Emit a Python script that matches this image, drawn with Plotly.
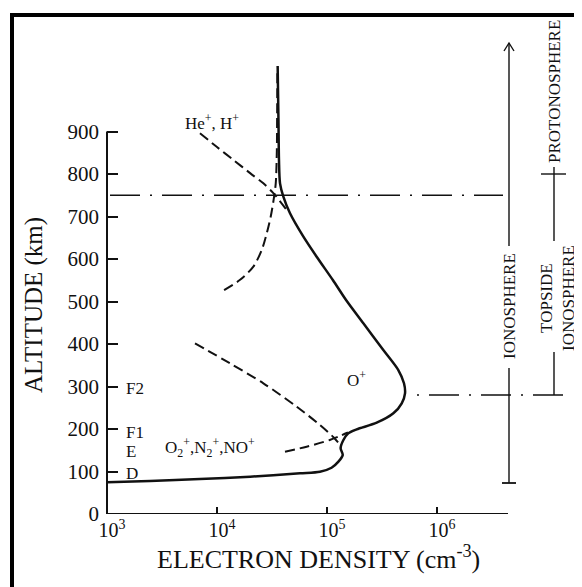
import plotly.graph_objects as go

# ---------------- data ----------------
# total electron density (solid curve)
total_alt = [74.6, 77.6, 82.4, 87.8, 95.8, 99.5, 108.9, 123.1, 138.8, 154.6, 174.1,
             189.9, 199.3, 214.8, 236.9, 260.5, 284.0, 307.5, 338.8, 385.9, 448.7,
             503.5, 550.6, 605.4, 652.5, 707.5, 746.6, 778.1, 832.9, 927.1, 1054]
total_ne = [1.0e3, 2.46e3, 7.0e3, 2.0e4, 5.69e4, 8.63e4, 1.10e5, 1.27e5, 1.39e5, 1.33e5, 1.41e5,
            1.56e5, 1.86e5, 2.83e5, 4.01e5, 4.78e5, 5.12e5, 5.01e5, 4.45e5, 3.25e5, 2.14e5,
            1.49e5, 1.13e5, 8.05e4, 6.10e4, 4.61e4, 4.01e4, 3.74e4, 3.66e4, 3.62e4, 3.56e4]

# light ions He+, H+ (dashed)
light_alt = [527, 551, 582, 621, 660, 700, 739, 778, 856, 935, 1045]
light_ne = [1.16e4, 1.62e4, 2.14e4, 2.55e4, 2.83e4, 3.08e4, 3.27e4, 3.42e4, 3.50e4, 3.52e4, 3.54e4]

# O+ above the transition (dashed)
oplus_top_alt = [896, 864, 833, 802, 778, 755, 715]
oplus_top_ne = [7.0e3, 9.93e3, 1.41e4, 2.0e4, 2.64e4, 3.25e4, 4.31e4]

# O+ below the F-region peak (dashed)
oplus_low_alt = [146.6, 158.4, 174.1, 191.8]
oplus_low_ne = [4.15e4, 6.53e4, 1.06e5, 1.55e5]

# molecular ions O2+, N2+, NO+ (dashed)
mol_alt = [401.6, 354.6, 307.5, 252.5, 209.4, 181.2, 160]
mol_ne = [6.31e3, 1.31e4, 2.64e4, 5.31e4, 8.63e4, 1.14e5, 1.34e5]

# axis ticks
y_ticks = [0, 100, 200, 300, 400, 500, 600, 700, 800, 900]
x_ticks = [1e3, 1e4, 1e5, 1e6]
x_tick_text = ["10<sup>3</sup>", "10<sup>4</sup>", "10<sup>5</sup>", "10<sup>6</sup>"]

# region boundaries (km)
transition_alt = 750
peak_alt = 280

# ---------------- layout helpers (window pixel coordinates) ----------------
WIN_W, WIN_H = 582, 587
OFF = 8                      # page body margin
W, H = WIN_W - OFF, WIN_H - OFF
P_LEFT, P_RIGHT, P_TOP, P_BOTTOM = 107, 575, 40, 514
PW = P_RIGHT - P_LEFT
PH = P_BOTTOM - P_TOP
PX_PER_DEC = 110.0
PX_PER_KM = 0.425


def px(x):  # window pixel x -> paper x
    return (x - P_LEFT) / PW


def km(y):  # window pixel y -> altitude
    return (P_BOTTOM - y) / PX_PER_KM


def py(y):  # window pixel y -> paper y
    return (P_BOTTOM - y) / PH


FONT = "Liberation Serif, Times New Roman, serif"
INK = "#111111"

fig = go.Figure()

fig.add_trace(go.Scatter(x=total_ne, y=total_alt, mode="lines",
                         line=dict(color=INK, width=2.5, shape="spline", smoothing=0.8),
                         hoverinfo="skip", showlegend=False))
for xs, ys in [(light_ne, light_alt), (oplus_top_ne, oplus_top_alt),
               (oplus_low_ne, oplus_low_alt), (mol_ne, mol_alt)]:
    fig.add_trace(go.Scatter(x=xs, y=ys, mode="lines",
                             line=dict(color=INK, width=2, dash="10px,5px",
                                       shape="spline", smoothing=0.8),
                             hoverinfo="skip", showlegend=False))

shapes = []
# axis lines
shapes.append(dict(type="line", xref="paper", yref="y", x0=0, x1=0, y0=0, y1=900,
                   line=dict(color=INK, width=2)))
shapes.append(dict(type="line", xref="paper", yref="y", x0=0, x1=px(508), y0=0, y1=0,
                   line=dict(color=INK, width=2)))
# dash-dot boundaries
shapes.append(dict(type="line", xref="paper", yref="y", x0=px(110), x1=px(503),
                   y0=transition_alt, y1=transition_alt,
                   line=dict(color=INK, width=1.4, dash="30px,10px,2px,10px")))
shapes.append(dict(type="line", xref="paper", yref="y", x0=px(417), x1=px(563),
                   y0=peak_alt, y1=peak_alt,
                   line=dict(color=INK, width=1.4, dash="2px,10px,30px,10px")))
# IONOSPHERE arrow
xa = px(509)
shapes.append(dict(type="line", xref="paper", yref="y", x0=xa, x1=xa, y0=km(483), y1=km(368),
                   line=dict(color=INK, width=1.4)))
shapes.append(dict(type="line", xref="paper", yref="y", x0=xa, x1=xa, y0=km(246), y1=km(43),
                   line=dict(color=INK, width=1.4)))
shapes.append(dict(type="line", xref="paper", yref="y", x0=px(502), x1=px(516), y0=km(483), y1=km(483),
                   line=dict(color=INK, width=1.8)))
shapes.append(dict(type="path", xref="paper", yref="y",
                   path=f"M {px(504)} {km(51)} L {xa} {km(43)} L {px(514)} {km(51)}",
                   line=dict(color=INK, width=1.4)))
# TOPSIDE / PROTONOSPHERE bracket
xb = px(554)
shapes.append(dict(type="line", xref="paper", yref="y", x0=xb, x1=xb, y0=km(167), y1=km(241),
                   line=dict(color=INK, width=1.4)))
shapes.append(dict(type="line", xref="paper", yref="y", x0=xb, x1=xb, y0=km(352), y1=peak_alt,
                   line=dict(color=INK, width=1.4)))
shapes.append(dict(type="line", xref="paper", yref="y", x0=px(541), x1=px(566), y0=km(174), y1=km(174),
                   line=dict(color=INK, width=1.4)))
# scan frame
shapes.append(dict(type="rect", xref="paper", yref="paper", x0=px(12), x1=px(600),
                   y0=py(600), y1=py(15), line=dict(color="black", width=4)))

ann = []


def label(text, x, y, size=17, angle=0, xanchor="center", **kw):
    ann.append(dict(text=text, xref="paper", yref="y", x=x, y=y, showarrow=False,
                    textangle=angle, xanchor=xanchor, yanchor="middle",
                    font=dict(family=FONT, size=size, color=INK), **kw))


label("He<sup>+</sup>, H<sup>+</sup>", px(212), km(122), size=17)
label("O<sup>+</sup>", px(356), km(379), size=17)
label("O<sub>2</sub><sup>+</sup>,N<sub>2</sub><sup>+</sup>,NO<sup>+</sup>", px(210), km(447), size=17)
label("F2", px(124), km(388), size=17, xanchor="left")
label("F1", px(124), km(432), size=17, xanchor="left")
label("E", px(124), km(451), size=17, xanchor="left")
label("D", px(124), km(473), size=17, xanchor="left")
label("IONOSPHERE", xa, km(306), size=17, angle=-90)
label("PROTONOSPHERE", xb, km(92), size=17, angle=-90)
label("TOPSIDE<br>IONOSPHERE", px(557), km(298), size=17, angle=-90)
label("ALTITUDE (km)", px(34), km(305), size=25, angle=-90)
ann.append(dict(text="ELECTRON DENSITY (cm<sup>-3</sup>)", xref="paper", yref="paper",
                x=px(318), y=py(557), showarrow=False, xanchor="center", yanchor="middle",
                font=dict(family=FONT, size=26, color=INK)))

fig.update_layout(
    width=W, height=H,
    margin=dict(l=P_LEFT - OFF, r=(OFF + W) - P_RIGHT, t=P_TOP - OFF,
                b=(OFF + H) - P_BOTTOM, pad=0),
    paper_bgcolor="white", plot_bgcolor="white",
    showlegend=False,
    shapes=shapes, annotations=ann,
    xaxis=dict(type="log", range=[3, 3 + PW / PX_PER_DEC], showgrid=False, zeroline=False,
               showline=False, ticks="inside", ticklen=7, tickwidth=2, tickcolor=INK,
               tickvals=x_ticks, ticktext=x_tick_text, ticklabelshift=5, ticklabelstandoff=2,
               tickfont=dict(family=FONT, size=20, color=INK)),
    yaxis=dict(range=[0, PH / PX_PER_KM], showgrid=False, zeroline=False, showline=False,
               ticks="inside", ticklen=11, tickwidth=2, tickcolor=INK,
               tickvals=y_ticks, ticklabelstandoff=7,
               tickfont=dict(family=FONT, size=21, color=INK)),
)

fig.write_html("out.html")
